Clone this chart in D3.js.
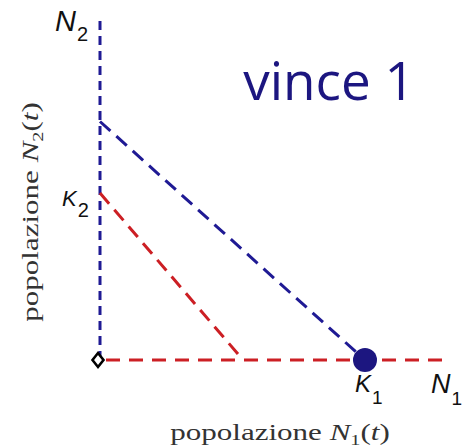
<!DOCTYPE html>
<html>
<head>
<meta charset="utf-8">
<script src="https://cdn.jsdelivr.net/npm/d3@7"></script>
<style>
body { margin: 0; background: #fff; }
svg { display: block; }
</style>
</head>
<body>
<svg id="chart" width="464" height="448"></svg>
<script>
/* data (units of K1 = 100) */
var axisMax = [131, 129];              // N1 max, N2 max
var isoBlue = [[0, 90], [100, 0]];     // isocline of species 1
var isoRed = [[0, 63], [54, 0]];       // isocline of species 2
var winner = [[100, 0]];               // stable point K1
var origin = [[0, 0]];
var axisNames = ['N', 'N'];
var title = 'vince 1';

var svg = d3.select('#chart');

var x = d3.scaleLinear().domain([0, 100]).range([100, 365]),
    y = d3.scaleLinear().domain([0, 100]).range([360, 95]);

var line = d3.line()
    .x(function(d) { return x(d[0]); })
    .y(function(d) { return y(d[1]); });

var blue = '#1f1a94', red = '#cc1f24';

/* axes as dashed lines */
svg.append('path')
    .attr('d', line([[0, 0], [0, axisMax[1]]]))
    .attr('stroke', blue).attr('stroke-width', 3)
    .attr('stroke-dasharray', '9,6').attr('fill', 'none');

svg.append('path')
    .attr('d', line([[0, 0], [axisMax[0], 0]]))
    .attr('stroke', red).attr('stroke-width', 3)
    .attr('stroke-dasharray', '14,9').attr('stroke-dashoffset', -6)
    .attr('fill', 'none');

/* isoclines */
svg.append('path')
    .attr('d', line(isoBlue))
    .attr('stroke', blue).attr('stroke-width', 3)
    .attr('stroke-dasharray', '14,8').attr('fill', 'none');

svg.append('path')
    .attr('d', line(isoRed))
    .attr('stroke', red).attr('stroke-width', 3)
    .attr('stroke-dasharray', '14,8').attr('fill', 'none');

/* origin diamond */
svg.selectAll('.origin')
    .data(origin)
    .enter().append('path')
      .attr('class', 'origin')
      .attr('d', 'M0,-7L5.5,0L0,7L-5.5,0Z')
      .attr('transform', function(d) { return 'translate(' + (x(d[0]) - 2) + ',' + y(d[1]) + ')'; })
      .attr('fill', '#fff').attr('stroke', '#000').attr('stroke-width', 2.6);

/* stable point */
svg.selectAll('.win')
    .data(winner)
    .enter().append('circle')
      .attr('class', 'win')
      .attr('cx', function(d) { return x(d[0]); })
      .attr('cy', function(d) { return y(d[1]); })
      .attr('r', 12)
      .attr('fill', '#1c1680');

/* labels */
function sub(main, s, px, py, size, ssize, dy) {
  var tx = svg.append('text')
      .attr('x', px).attr('y', py)
      .attr('font-family', 'Liberation Sans, Arial, sans-serif')
      .attr('font-style', 'italic')
      .attr('font-size', size)
      .attr('fill', '#111');
  tx.append('tspan').text(main);
  tx.append('tspan').attr('font-style', 'normal')
      .attr('font-size', ssize).attr('dx', 1).attr('dy', dy).text(s);
  return tx;
}

sub(axisNames[1], '2', 55, 31, 29, 20, 10);
sub('K', '2', 62, 206, 22, 20, 11);
sub('K', '1', 355, 392, 24, 19, 12);
sub(axisNames[0], '1', 431, 393, 27, 19, 12);

svg.append('text')
    .attr('x', 329).attr('y', 100)
    .attr('text-anchor', 'middle')
    .attr('font-family', 'Open Sans, sans-serif')
    .attr('font-size', 53)
    .attr('fill', '#1c1680')
    .text(title);

function axisLabel(px, py, rot, s) {
  var t = svg.append('text')
      .attr('transform', 'translate(' + px + ',' + py + ') rotate(' + rot + ') scale(1.35,1)')
      .attr('text-anchor', 'middle')
      .attr('font-family', 'Liberation Serif, Times New Roman, serif')
      .attr('font-size', 23)
      .attr('fill', '#333');
  t.append('tspan').text('popolazione ');
  t.append('tspan').attr('font-style', 'italic').text('N');
  t.append('tspan').attr('font-size', 15).attr('dy', 5).text(s);
  t.append('tspan').attr('dy', -5).text('(');
  t.append('tspan').attr('font-style', 'italic').text('t');
  t.append('tspan').text(')');
}

axisLabel(280, 440, 0, '1');
axisLabel(38, 212, -90, '2');
</script>
</body>
</html>
